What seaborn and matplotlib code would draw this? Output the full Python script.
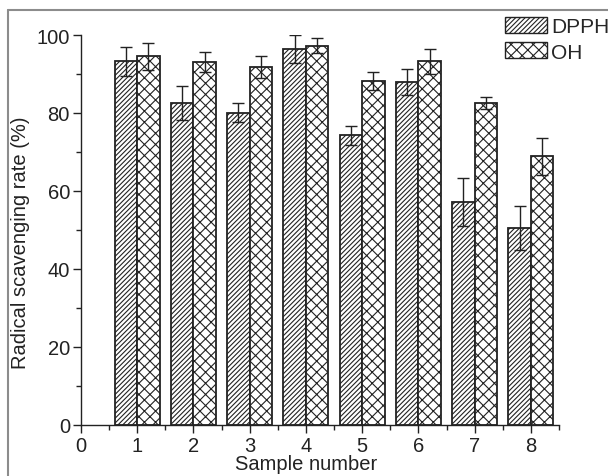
import numpy as np
import pandas as pd
import matplotlib
matplotlib.use("Agg")
import matplotlib.pyplot as plt
from matplotlib.patches import Patch
from matplotlib.lines import Line2D
from matplotlib.ticker import MultipleLocator
import seaborn as sns

# Values
samples = [1, 2, 3, 4, 5, 6, 7, 8]
dpph = [93.2, 82.5, 80.1, 96.3, 74.3, 87.9, 57.2, 50.5]
dpph_err = [3.6, 4.3, 2.4, 3.6, 2.4, 3.4, 6.1, 5.7]
oh = [94.5, 93.1, 91.7, 97.3, 88.3, 93.2, 82.6, 68.9]
oh_err = [3.4, 2.5, 2.8, 1.9, 2.3, 3.2, 1.6, 4.7]
series = ["DPPH", "OH"]
hatches = ["///////", "xxx"]

sns.set_style("ticks")
plt.rcParams["font.family"] = ["Liberation Sans", "DejaVu Sans"]
plt.rcParams["hatch.linewidth"] = 0.8
plt.rcParams["hatch.color"] = "#222222"

df = pd.DataFrame({
    "sample": samples * 2,
    "value": dpph + oh,
    "series": [series[0]] * len(samples) + [series[1]] * len(samples),
})

fig = plt.figure(figsize=(6.08, 4.77), dpi=100)
ax = fig.add_axes([81 / 608, 1 - 425.7 / 477, 478 / 608, (425.7 - 36) / 477])

sns.barplot(
    data=df, x="sample", y="value", hue="series", native_scale=True,
    palette=["white", "white"], edgecolor="#222222", linewidth=1.3,
    errorbar=None, legend=False, width=0.8, ax=ax,
)

# hatches and error bars
for cont, h in zip(ax.containers, hatches):
    for bar in cont:
        bar.set_hatch(h)
        bar.set_facecolor("white")
        bar.set_edgecolor("#222222")

x = np.array(samples, dtype=float)
ax.errorbar(x - 0.2, dpph, yerr=dpph_err, fmt="none", ecolor="#222222",
            elinewidth=1.0, capsize=4.3, capthick=1.0)
ax.errorbar(x + 0.2, oh, yerr=oh_err, fmt="none", ecolor="#222222",
            elinewidth=1.0, capsize=4.3, capthick=1.0)

ax.set_xlim(0, 8.5)
ax.set_ylim(0, 100)
ax.set_xticks(range(0, 9))
ax.set_xticklabels([str(i) for i in range(0, 9)])
ax.xaxis.set_minor_locator(MultipleLocator(0.5))
ax.yaxis.set_major_locator(MultipleLocator(20))
ax.yaxis.set_minor_locator(MultipleLocator(10))
ax.tick_params(which="major", direction="out", length=6, width=1.0,
               labelsize=14.5, color="#222222", labelcolor="#222222", pad=2)
ax.tick_params(which="minor", direction="out", length=3.5, width=1.0,
               color="#222222")
for side in ["top", "right"]:
    ax.spines[side].set_visible(False)
for side in ["left", "bottom"]:
    ax.spines[side].set_linewidth(1.0)
    ax.spines[side].set_color("#222222")

ax.set_xlabel("Sample number", fontsize=14.5, color="#222222")
ax.set_ylabel("Radical scavenging rate (%)", fontsize=14.5, color="#222222")
ax.xaxis.set_label_coords(0.472, -0.075)
ax.yaxis.set_label_coords(-0.107, 0.47)

handles = [Patch(facecolor="white", edgecolor="#222222", hatch=h, linewidth=1.0, label=s)
           for h, s in zip(hatches, series)]
fig.legend(handles=handles, loc="upper left", bbox_to_anchor=(505 / 608, 1 - 18 / 477),
           frameon=False, fontsize=15, handlelength=2.0, handleheight=0.8,
           handletextpad=0.2, labelspacing=0.3, borderaxespad=0, borderpad=0)

# light frame around the figure (cropped at right and bottom)
fig.add_artist(Line2D([8 / 608, 1], [1 - 11 / 477, 1 - 11 / 477],
                      transform=fig.transFigure, color="#8c8c8c", lw=1.5))
fig.add_artist(Line2D([8 / 608, 8 / 608], [0, 1 - 11 / 477],
                      transform=fig.transFigure, color="#8c8c8c", lw=1.5))

fig.savefig("out.png", dpi=100)
